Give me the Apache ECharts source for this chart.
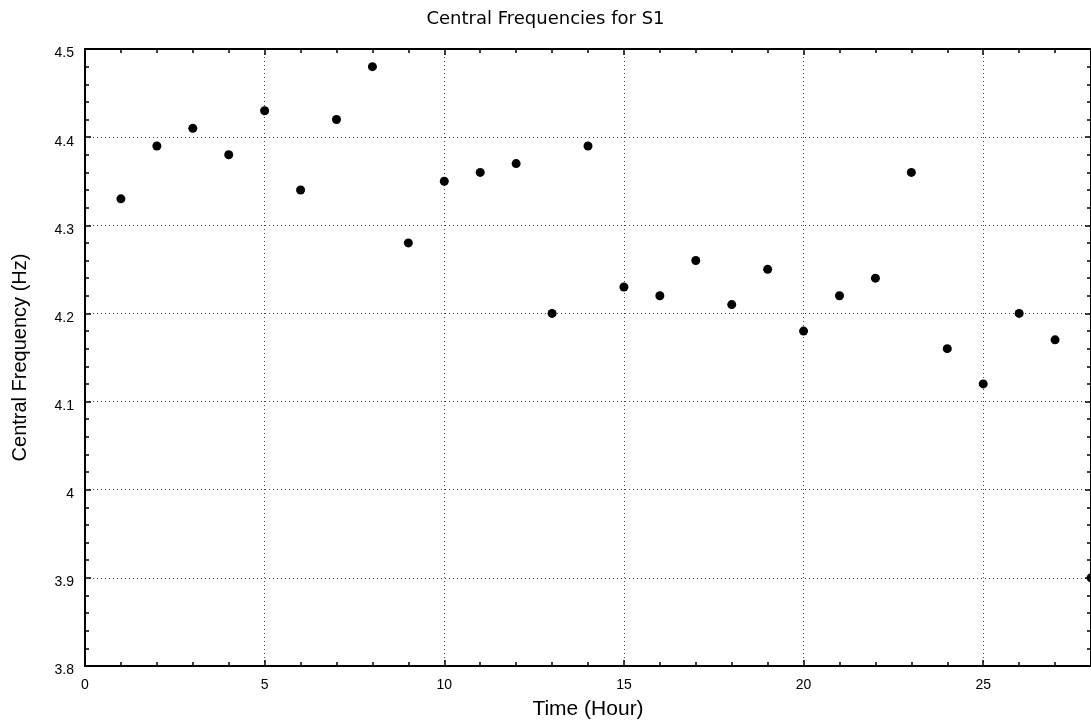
<!DOCTYPE html>
<html><head><meta charset="utf-8">
<script src="https://cdn.jsdelivr.net/npm/echarts@6/dist/echarts.min.js"></script>
<style>html,body{margin:0;padding:0;background:#fff}#c{width:1091px;height:727px}</style>
</head><body><div id="c"></div>
<script>
const hours = [1,2,3,4,5,6,7,8,9,10,11,12,13,14,15,16,17,18,19,20,21,22,23,24,25,26,27,28];
const freqs = [4.33,4.39,4.41,4.38,4.43,4.34,4.42,4.48,4.28,4.35,4.36,4.37,4.20,4.39,4.23,4.22,4.26,4.21,4.25,4.18,4.22,4.24,4.36,4.16,4.12,4.20,4.17,3.90];
const titleText = 'Central Frequencies for S1';
const xName = 'Time (Hour)';
const yName = 'Central Frequency (Hz)';

const chart = echarts.init(document.getElementById('c'), null, {renderer:'canvas'});
const grid = {left:85, top:49, width:1006, height:617};
const gridLine = {show:true, lineStyle:{color:'#444', width:1, type:[1,3]}};
const axisLine = {show:true, onZero:false, lineStyle:{color:'#000', width:2}};
const labelFont = {fontFamily:'Liberation Sans', fontSize:14, color:'#000'};
chart.setOption({
  animation:false,
  title:{text:titleText, left:'center', top:5, textStyle:{fontFamily:'DejaVu Sans', fontSize:18, fontWeight:'normal', color:'#000'}},
  grid: grid,
  xAxis:[
    {type:'value', min:0, max:28, interval:5, position:'bottom', name:xName, nameLocation:'middle', nameGap:33,
     nameTextStyle:{fontFamily:'Liberation Sans', fontSize:21, color:'#000'},
     axisLine:axisLine, axisTick:{show:true, inside:true, length:6, lineStyle:{color:'#000', width:1.5}},
     minorTick:{show:true, splitNumber:5, length:4, lineStyle:{color:'#000', width:1.5}},
     axisLabel:Object.assign({margin:12, showMaxLabel:false}, labelFont), splitLine:gridLine},
    {type:'value', min:0, max:28, interval:5, position:'top',
     axisLine:axisLine, axisTick:{show:true, inside:true, length:6, lineStyle:{color:'#000', width:1.5}},
     minorTick:{show:true, splitNumber:5, length:4, lineStyle:{color:'#000', width:1.5}},
     axisLabel:{show:false}, splitLine:{show:false}}
  ],
  yAxis:[
    {type:'value', min:3.8, max:4.5, interval:0.1, position:'left', name:yName, nameLocation:'middle', nameGap:55,
     nameTextStyle:{fontFamily:'Liberation Sans', fontSize:20, color:'#000'},
     axisLine:axisLine, axisTick:{show:true, inside:true, length:6, lineStyle:{color:'#000', width:1.5}},
     minorTick:{show:true, splitNumber:5, length:4, lineStyle:{color:'#000', width:1.5}},
     axisLabel:{margin:11, formatter:function(v){return '{t|' + String(Math.round(v*10)/10) + '}';},
       rich:{t:Object.assign({padding:[9,0,0,0]}, labelFont)}}, splitLine:gridLine},
    {type:'value', min:3.8, max:4.5, interval:0.1, position:'right',
     axisLine:axisLine, axisTick:{show:true, inside:true, length:6, lineStyle:{color:'#000', width:1.5}},
     minorTick:{show:true, splitNumber:5, length:4, lineStyle:{color:'#000', width:1.5}},
     axisLabel:{show:false}, splitLine:{show:false}}
  ],
  series:[{type:'scatter', xAxisIndex:0, yAxisIndex:0, symbol:'circle', symbolSize:9,
    itemStyle:{color:'#000', opacity:1}, data: hours.map((h,i)=>[h, freqs[i]])}]
});
</script></body></html>
